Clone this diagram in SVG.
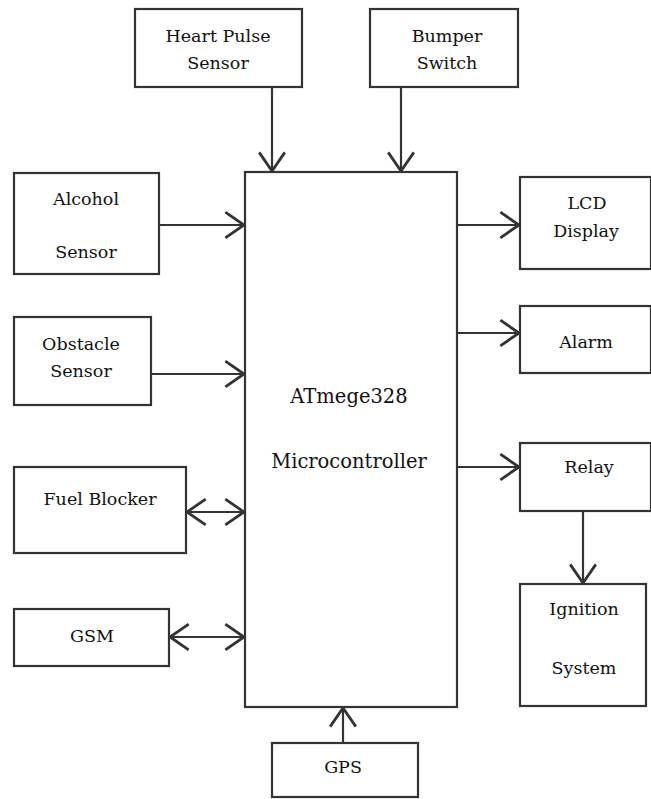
<svg xmlns="http://www.w3.org/2000/svg" width="651" height="799" viewBox="0 0 651 799">
<style>
.box{fill:#fff;stroke:#333;stroke-width:2.2}
.lbl{font-family:"DejaVu Serif","Liberation Serif",serif;font-size:17.5px;fill:#111;text-anchor:middle}
.big{font-size:19.5px}
.con{stroke:#333;stroke-width:2.2;fill:none}
</style>
<defs>
<marker id="v" markerUnits="userSpaceOnUse" markerWidth="24" markerHeight="28" refX="17" refY="12" orient="auto-start-reverse" viewBox="0 0 20 24">
<path d="M1,1 L17,12 L1,23" fill="none" stroke="#333" stroke-width="2.4"/>
</marker>
</defs>
<rect width="651" height="799" fill="#fff"/>
<g id="connectors">
<line class="con" x1="272" y1="87" x2="272" y2="171" marker-end="url(#v)"/>
<line class="con" x1="401" y1="87" x2="401" y2="171" marker-end="url(#v)"/>
<line class="con" x1="159" y1="225" x2="244" y2="225" marker-end="url(#v)"/>
<line class="con" x1="151" y1="374" x2="244" y2="374" marker-end="url(#v)"/>
<line class="con" x1="187" y1="512" x2="244" y2="512" marker-start="url(#v)" marker-end="url(#v)"/>
<line class="con" x1="170" y1="637" x2="244" y2="637" marker-start="url(#v)" marker-end="url(#v)"/>
<line class="con" x1="457" y1="225" x2="519" y2="225" marker-end="url(#v)"/>
<line class="con" x1="457" y1="333" x2="519" y2="333" marker-end="url(#v)"/>
<line class="con" x1="457" y1="467" x2="519" y2="467" marker-end="url(#v)"/>
<line class="con" x1="583" y1="511" x2="583" y2="583" marker-end="url(#v)"/>
<line class="con" x1="343" y1="743" x2="343" y2="708" marker-end="url(#v)"/>
</g>
<g id="mcu">
<rect class="box" x="245" y="172" width="212" height="535"/>
<text class="lbl big" x="349" y="403">ATmege328</text>
<text class="lbl big" x="349" y="468">Microcontroller</text>
</g>
<g id="heart">
<rect class="box" x="135" y="9" width="167" height="78"/>
<text class="lbl" x="218" y="42">Heart Pulse</text>
<text class="lbl" x="218" y="69">Sensor</text>
</g>
<g id="bumper">
<rect class="box" x="370" y="9" width="148" height="78"/>
<text class="lbl" x="447" y="42">Bumper</text>
<text class="lbl" x="447" y="69">Switch</text>
</g>
<g id="alcohol">
<rect class="box" x="14" y="173" width="145" height="101"/>
<text class="lbl" x="86" y="205">Alcohol</text>
<text class="lbl" x="86" y="258">Sensor</text>
</g>
<g id="obstacle">
<rect class="box" x="14" y="317" width="137" height="88"/>
<text class="lbl" x="81" y="350">Obstacle</text>
<text class="lbl" x="81" y="377">Sensor</text>
</g>
<g id="fuel">
<rect class="box" x="14" y="467" width="172" height="86"/>
<text class="lbl" x="100" y="505">Fuel Blocker</text>
</g>
<g id="gsm">
<rect class="box" x="14" y="609" width="155" height="57"/>
<text class="lbl" x="92" y="642">GSM</text>
</g>
<g id="lcd">
<rect class="box" x="520" y="177" width="131" height="92"/>
<text class="lbl" x="587" y="209">LCD</text>
<text class="lbl" x="586" y="237">Display</text>
</g>
<g id="alarm">
<rect class="box" x="520" y="306" width="131" height="67"/>
<text class="lbl" x="586" y="348">Alarm</text>
</g>
<g id="relay">
<rect class="box" x="520" y="443" width="131" height="68"/>
<text class="lbl" x="589" y="473">Relay</text>
</g>
<g id="ignition">
<rect class="box" x="520" y="584" width="126" height="122"/>
<text class="lbl" x="584" y="615">Ignition</text>
<text class="lbl" x="584" y="674">System</text>
</g>
<g id="gps">
<rect class="box" x="272" y="743" width="146" height="54"/>
<text class="lbl" x="343" y="773">GPS</text>
</g>
</svg>
